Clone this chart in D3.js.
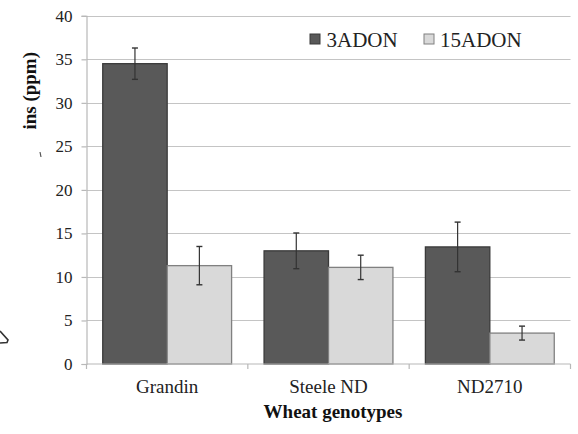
<!DOCTYPE html>
<html>
<head>
<meta charset="utf-8">
<script src="https://cdn.jsdelivr.net/npm/d3@7"></script>
<style>
  html, body { margin: 0; padding: 0; background: #ffffff; }
  svg text { font-family: "Liberation Serif", "Times New Roman", serif; }
</style>
</head>
<body>
<svg id="chart" width="578" height="434"></svg>
<script>
const categories = ["Grandin", "Steele ND", "ND2710"];
const seriesNames = ["3ADON", "15ADON"];
const values3ADON = [34.5, 13.0, 13.45];
const values15ADON = [11.3, 11.1, 3.55];
const err3ADON = [1.8, 2.05, 2.85];
const err15ADON = [2.2, 1.4, 0.8];
const yTicks = [0, 5, 10, 15, 20, 25, 30, 35, 40];
const colors = ["#595959", "#d9d9d9"];
const strokes = ["#3a3a3a", "#808080"];

const SERIF = '"Liberation Serif", "Times New Roman", serif';
const svg = d3.select("#chart");
const mLeft = 86.5, mRight = 570.5, mTop = 15.8, mBottom = 364;

const x0 = d3.scaleBand().domain(categories).range([mLeft, mRight]).padding(0);
const x1 = d3.scaleBand().domain(seriesNames).range([0, x0.bandwidth()])
  .paddingInner(0).paddingOuter(0.252);
const y = d3.scaleLinear().domain([0, 40]).range([mBottom, mTop]);

// gridlines
svg.append("g").selectAll("line").data(yTicks.filter(d => d > 0)).join("line")
  .attr("x1", mLeft).attr("x2", mRight)
  .attr("y1", d => Math.round(y(d)) + 0.5).attr("y2", d => Math.round(y(d)) + 0.5)
  .attr("stroke", "#c4c4c4").attr("stroke-width", 1.2);

// y axis
const yAxis = d3.axisLeft(y).tickValues(yTicks).tickSize(5).tickPadding(10);
const gy = svg.append("g").attr("transform", `translate(${mLeft},0)`).call(yAxis)
  .attr("font-family", null).attr("font-size", null);
gy.select(".domain").attr("stroke", "#b8b8b8").attr("stroke-width", 1.2);
gy.selectAll(".tick line").attr("stroke", "#b8b8b8").attr("stroke-width", 1.2);
gy.selectAll(".tick text").style("font-size", "17px").attr("fill", "#222")
  .style("font-family", SERIF).attr("x", -14);

// data rows
const rows = categories.map((c, i) => ({
  cat: c,
  items: [
    { s: seriesNames[0], v: values3ADON[i], e: err3ADON[i], k: 0 },
    { s: seriesNames[1], v: values15ADON[i], e: err15ADON[i], k: 1 }
  ]
}));

const groups = svg.append("g").selectAll("g").data(rows).join("g")
  .attr("transform", d => `translate(${x0(d.cat)},0)`);

groups.selectAll("rect").data(d => d.items).join("rect")
  .attr("x", d => x1(d.s)).attr("width", x1.bandwidth())
  .attr("y", d => y(d.v)).attr("height", d => y(0) - y(d.v))
  .attr("fill", d => colors[d.k]).attr("stroke", d => strokes[d.k]).attr("stroke-width", 1.3);

// error bars
const eb = groups.selectAll("g.err").data(d => d.items).join("g").attr("class", "err");
eb.append("line")
  .attr("x1", d => x1(d.s) + x1.bandwidth() / 2).attr("x2", d => x1(d.s) + x1.bandwidth() / 2)
  .attr("y1", d => y(d.v + d.e)).attr("y2", d => y(d.v - d.e))
  .attr("stroke", "#333").attr("stroke-width", 1.2);
eb.selectAll("line.cap").data(d => [[d, d.v + d.e], [d, d.v - d.e]]).join("line").attr("class", "cap")
  .attr("x1", d => x1(d[0].s) + x1.bandwidth() / 2 - 3).attr("x2", d => x1(d[0].s) + x1.bandwidth() / 2 + 3)
  .attr("y1", d => y(d[1])).attr("y2", d => y(d[1]))
  .attr("stroke", "#333").attr("stroke-width", 1.4);

// x axis
svg.append("line").attr("x1", mLeft).attr("x2", mRight).attr("y1", mBottom).attr("y2", mBottom)
  .attr("stroke", "#b8b8b8").attr("stroke-width", 1.2);
const bounds = categories.map(c => x0(c)).concat([x0(categories[categories.length - 1]) + x0.bandwidth()]);
svg.append("g").selectAll("line").data(bounds).join("line")
  .attr("x1", d => d).attr("x2", d => d).attr("y1", mBottom).attr("y2", mBottom + 5)
  .attr("stroke", "#b8b8b8").attr("stroke-width", 1.2);
svg.append("g").selectAll("text").data(categories).join("text")
  .attr("x", d => x0(d) + x0.bandwidth() / 2).attr("y", 393)
  .attr("text-anchor", "middle").style("font-size", "19px").style("font-family", SERIF)
  .attr("fill", "#222").text(d => d);

// axis titles
svg.append("text").attr("x", 333).attr("y", 418).attr("text-anchor", "middle")
  .style("font-size", "19px").style("font-family", SERIF).attr("font-weight", "bold")
  .attr("fill", "#111").text("Wheat genotypes");
svg.append("text").attr("transform", "translate(36,52) rotate(-90)").attr("text-anchor", "end")
  .style("font-size", "19px").style("font-family", SERIF).attr("font-weight", "bold")
  .attr("fill", "#111").text("ins (ppm)");
// stray fragments visible in the original
svg.append("line").attr("x1", 40).attr("x2", 41).attr("y1", 152).attr("y2", 157)
  .attr("stroke", "#555").attr("stroke-width", 1.2);
svg.append("path").attr("d", "M0,331 L8,340 L7,342.5 L0,343")
  .attr("fill", "none").attr("stroke", "#333").attr("stroke-width", 1.6);

// legend
const legend = svg.append("g").selectAll("g").data(seriesNames).join("g")
  .attr("transform", (d, i) => `translate(${[310, 424][i]},34)`);
legend.append("rect").attr("width", 10).attr("height", 10)
  .attr("fill", (d, i) => colors[i]).attr("stroke", (d, i) => strokes[i]).attr("stroke-width", 1);
legend.append("text").attr("x", (d, i) => [16.5, 16][i]).attr("y", 12.5)
  .style("font-size", "21px").style("font-family", SERIF).attr("fill", "#222").text(d => d);
</script>
</body>
</html>
